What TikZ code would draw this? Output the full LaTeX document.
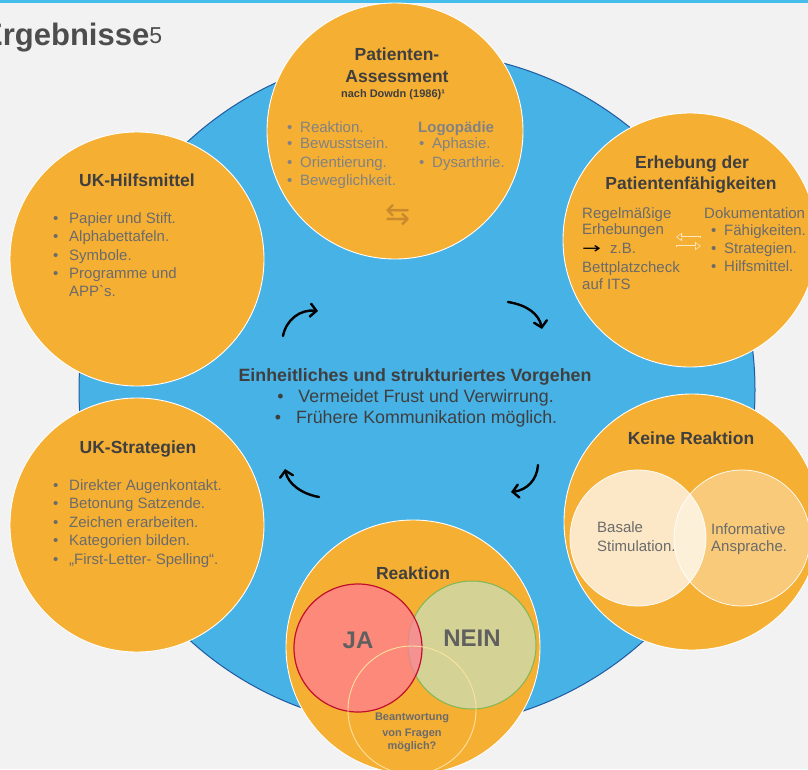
\documentclass[tikz,border=0pt]{standalone}
\usepackage{fontspec}
\setmainfont{Liberation Sans}
\newfontfamily\symfont{DejaVu Sans}
\usetikzlibrary{arrows.meta}

\definecolor{kBg}{HTML}{F2F2F2}
\definecolor{kTop}{HTML}{45BDEB}
\definecolor{kBlue}{HTML}{47B2E6}
\definecolor{kBlueDark}{HTML}{1E5AA0}
\definecolor{kOrange}{HTML}{F5AF33}
\definecolor{kHead}{HTML}{4D4D4D}
\definecolor{kTitle}{HTML}{3F3F3F}
\definecolor{kText}{HTML}{6B6B6B}
\definecolor{kLight}{HTML}{828282}
\definecolor{kBig}{HTML}{606060}
\definecolor{kSwap}{HTML}{C98A2E}
\definecolor{kPale}{HTML}{FCE7C0}
\definecolor{kOlive}{HTML}{D4D294}
\definecolor{kGreen}{HTML}{7DB857}
\definecolor{kRed}{HTML}{C0102E}
\definecolor{kSalmon}{HTML}{FF7D91}
\definecolor{kCream}{HTML}{FCE1A0}

% bullet item with a fixed indent
\newcommand{\itm}[2][16pt]{\makebox[#1][l]{\textbullet}#2}

\begin{document}
\begin{tikzpicture}[x=1pt, y=-1pt,
    % Define the styles for the circles
    bubble/.style={circle, draw=white, line width=0.9pt, fill=kOrange, minimum size=#1, inner sep=0pt},
    bubble/.default=254pt,
    lens/.style={circle, minimum size=#1, inner sep=0pt},
    % Define the styles for the texts
    ttl/.style={anchor=base, inner sep=0pt, text=kTitle, font=\fontsize{17.5}{21}\selectfont\bfseries},
    txt/.style={anchor=base west, inner sep=0pt, text=kText, font=\fontsize{15}{18}\selectfont},
    small/.style={anchor=base, inner sep=0pt, text=kText, font=\fontsize{11}{12}\selectfont\bfseries},
    % Define the styles for the arrows
    turn/.style={line width=2.4pt, line cap=round, -{Straight Barb[length=6pt, width=13pt, line cap=round]}},
    hollowout/.style={draw=kPale, line width=2.4pt, -{Triangle[length=6pt, width=8pt]}},
    hollowin/.style={draw=kOrange, line width=0.9pt, shorten >=1.3pt, shorten <=0.8pt, -{Triangle[length=3.6pt, width=5pt]}}
]

% Background and frame line
\fill[kBg] (0,0) rectangle (808,769);
\useasboundingbox (0,0) rectangle (808,769);
\fill[kTop] (0,0) rectangle (808,2.5);

\node[anchor=base west, inner sep=0pt, text=kHead, font=\fontsize{31}{31}\selectfont\bfseries] (title) at (-18,45)
    {Ergebnisse\raisebox{2pt}{\fontsize{23}{23}\selectfont\mdseries 5}};

% The blue plate
\node[circle, fill=kBlue, draw=kBlueDark, line width=1pt, minimum size=676pt, inner sep=0pt] (plate) at (417,390) {};

% The six orange circles
\node[bubble=256pt] (assess) at (395,131) {};
\node[bubble] (abil) at (690,240) {};
\node[bubble] (aids) at (137,259) {};
\node[bubble] (strat) at (137,525) {};
\node[bubble=256pt] (none) at (692,522) {};
\node[bubble] (react) at (413,647) {};

% Inner circles
\node[lens=136pt, fill=white, fill opacity=0.72, draw=white, line width=0.7pt] (basal) at (638,538) {};
\node[lens=136pt, fill=white, fill opacity=0.35, draw=white, line width=0.7pt] (info) at (742,538) {};
\node[lens=128pt, fill=kOlive, draw=kGreen, line width=1pt] (nein) at (472,645) {};
\node[lens=128pt, fill=kSalmon, fill opacity=0.75, draw=kRed, line width=1.2pt] (ja) at (358,648) {};
\node[lens=128pt, draw=kCream, line width=0.9pt] (ask) at (412,710) {};

% Patienten-Assessment
\node[ttl] (assess-t1) at (397,60) {Patienten-};
\node[ttl] (assess-t2) at (397,82) {Assessment};
\node[small, text=kTitle] (assess-src) at (393,97) {nach Dowdn (1986)¹};
\foreach \y/\t [count=\i] in {132/Reaktion., 148/Bewusstsein., 167/Orientierung., 185/Beweglichkeit.}
    \node[txt, text=kLight] (assess-l\i) at (287,\y) {\itm[13pt]{\t}};
\node[txt, text=kLight, font=\fontsize{15}{18}\selectfont\bfseries] (assess-logo) at (418,132) {Logopädie};
\foreach \y/\t [count=\i] in {148/Aphasie., 167/Dysarthrie.}
    \node[txt, text=kLight] (assess-r\i) at (419,\y) {\itm[13pt]{\t}};
\node[inner sep=0pt, text=kSwap, font=\symfont\fontsize{30}{30}\selectfont] (assess-swap) at (398,215) {⇆};

% Erhebung der Patientenfaehigkeiten
\node[ttl] (abil-t1) at (692,168) {Erhebung der};
\node[ttl] (abil-t2) at (691,189) {Patientenfähigkeiten};
\foreach \y/\t [count=\i] in {218/Regelmäßige, 234/Erhebungen, 272/Bettplatzcheck, 289/auf ITS}
    \node[txt] (abil-l\i) at (582,\y) {\t};
\node[txt] (abil-eg) at (582,253) {\makebox[28pt][l]{\textcolor{black}{\symfont\scalebox{1.5}[1]{→}}}z.B.};
\node[txt] (abil-doc) at (704,218) {Dokumentation};
\foreach \y/\t [count=\i] in {235/Fähigkeiten., 253/Strategien., 271/Hilfsmittel.}
    \node[txt] (abil-r\i) at (711,\y) {\itm[13pt]{\t}};
\coordinate (abil-sa) at (701,237);
\coordinate (abil-sb) at (676,237);
\coordinate (abil-sc) at (676,246);
\coordinate (abil-sd) at (701,246);
\draw[hollowout] (abil-sa) -- (abil-sb);
\draw[hollowout] (abil-sc) -- (abil-sd);
\draw[hollowin] (abil-sa) -- (abil-sb);
\draw[hollowin] (abil-sc) -- (abil-sd);

% UK-Hilfsmittel
\node[ttl] (aids-t) at (137,186) {UK-Hilfsmittel};
\foreach \t [count=\i from 0] in {Papier und Stift., Alphabettafeln., Symbole., Programme und}
    \node[txt] (aids-\i) at (53,223+18.6*\i) {\itm{\t}};
\node[txt] (aids-4) at (69,296) {APP\textasciigrave s.};

% UK-Strategien
\node[ttl] (strat-t) at (138,453) {UK-Strategien};
\foreach \t [count=\i from 0] in {Direkter Augenkontakt., Betonung Satzende., Zeichen erarbeiten., Kategorien bilden., „First-Letter- Spelling“.}
    \node[txt] (strat-\i) at (53,490+18.5*\i) {\itm{\t}};

% Keine Reaktion
\node[ttl] (none-t) at (691,444) {Keine Reaktion};
\node[txt] (basal-1) at (597,532) {Basale};
\node[txt] (basal-2) at (597,551) {Stimulation.};
\node[txt] (info-1) at (711,534) {Informative};
\node[txt] (info-2) at (711,551) {Ansprache.};

% Reaktion
\node[ttl] (react-t) at (413,579) {Reaktion};
\node[ttl, text=kBig, font=\fontsize{24}{24}\selectfont\bfseries] (ja-t) at (358,648) {JA};
\node[ttl, text=kBig, font=\fontsize{24}{24}\selectfont\bfseries] (nein-t) at (472,646) {NEIN};
\node[small] (ask-1) at (412,720) {Beantwortung};
\node[small] (ask-2) at (412,736) {von Fragen};
\node[small] (ask-3) at (412,749) {möglich?};

% Centre text
\node[ttl, font=\fontsize{17.8}{21}\selectfont\bfseries] (core-t) at (415,381) {Einheitliches und strukturiertes Vorgehen};
\node[ttl, font=\fontsize{17.8}{21}\selectfont] (core-1) at (415.5,402) {\textbullet\hspace{15pt}Vermeidet Frust und Verwirrung.};
\node[ttl, font=\fontsize{17.8}{21}\selectfont] (core-2) at (416,423) {\textbullet\hspace{15pt}Frühere Kommunikation möglich.};

% The cycle arrows
\coordinate (ul-a) at (283,336);
\coordinate (ul-b) at (318,311);
\coordinate (ur-a) at (508,302);
\coordinate (ur-b) at (542,329);
\coordinate (lr-a) at (538,465);
\coordinate (lr-b) at (511,492);
\coordinate (ll-a) at (319,497);
\coordinate (ll-b) at (285,469);
\draw[turn] (ul-a) .. controls (286,320) and (300,309) .. (ul-b);
\draw[turn] (ur-a) .. controls (527,305) and (539,314) .. (ur-b);
\draw[turn] (lr-a) .. controls (537,480) and (527,490) .. (lr-b);
\draw[turn] (ll-a) .. controls (302,494) and (288,484) .. (ll-b);

\end{tikzpicture}
\end{document}
